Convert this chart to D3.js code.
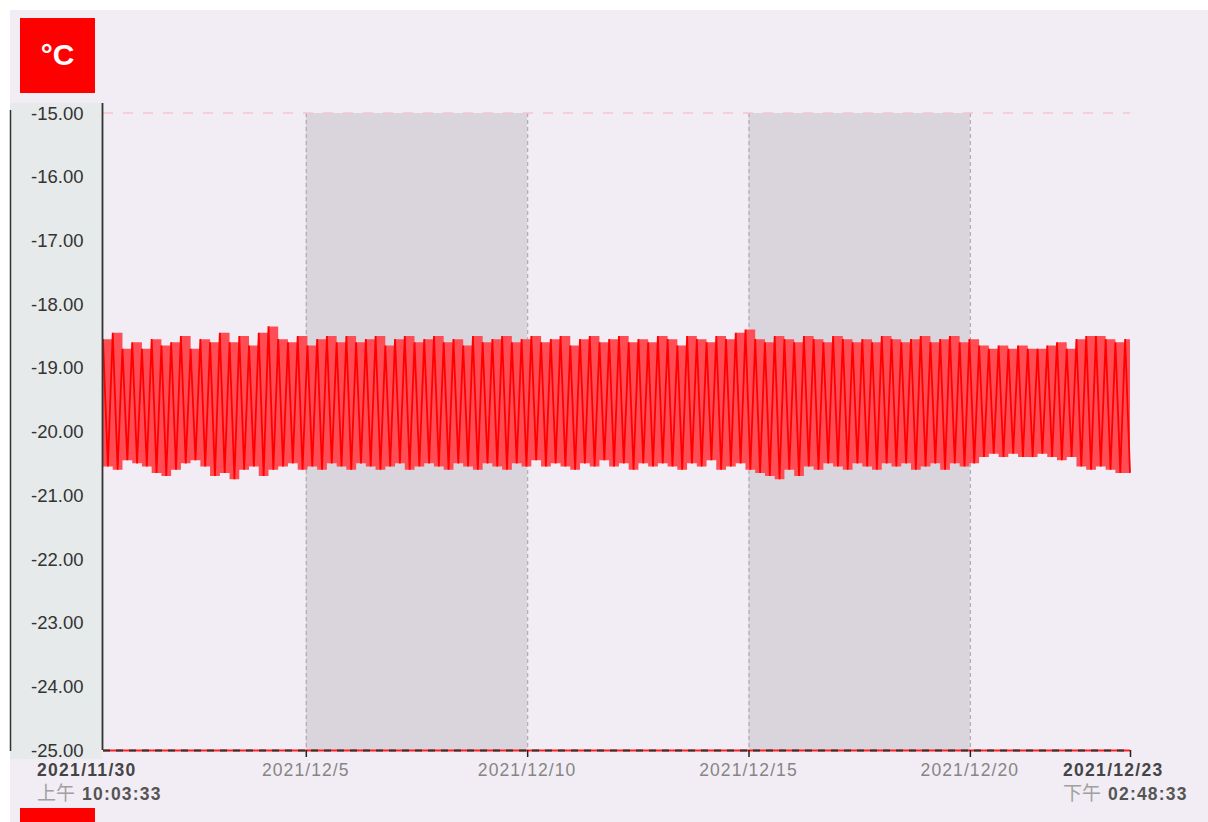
<!DOCTYPE html>
<html><head><meta charset="utf-8">
<script src="https://cdn.jsdelivr.net/npm/d3@7"></script>
<style>
html,body{margin:0;padding:0;background:#fff;}
svg{display:block;font-family:"Liberation Sans",Arial,sans-serif;}
</style></head>
<body>
<svg id="chart" width="1208" height="822"></svg>
<script>
// ---- data ----
const unitLabel = "°C";
const startTime = "2021-11-30T10:03:33";
const endTime = "2021-12-23T14:48:33";
const startLabel = ["2021/11/30", "上午", "10:03:33"];
const endLabel = ["2021/12/23", "下午", "02:48:33"];
const midTickDates = ["2021-12-05", "2021-12-10", "2021-12-15", "2021-12-20"];
const midTickLabels = ["2021/12/5", "2021/12/10", "2021/12/15", "2021/12/20"];
const shadedBands = [["2021-12-05", "2021-12-10"], ["2021-12-15", "2021-12-20"]];
const yTicks = [-15, -16, -17, -18, -19, -20, -21, -22, -23, -24, -25];
// per cycle maximum and minimum temperature (°C)
const highs = [
 -18.55,-18.45,-18.7,-18.6,-18.7,-18.55,-18.65,-18.6,-18.5,-18.7,
 -18.55,-18.6,-18.45,-18.6,-18.5,-18.65,-18.45,-18.35,-18.55,-18.6,
 -18.5,-18.65,-18.55,-18.5,-18.6,-18.5,-18.6,-18.55,-18.5,-18.65,
 -18.55,-18.5,-18.6,-18.55,-18.5,-18.6,-18.55,-18.65,-18.5,-18.6,
 -18.55,-18.5,-18.6,-18.55,-18.5,-18.6,-18.55,-18.5,-18.65,-18.55,
 -18.5,-18.6,-18.55,-18.5,-18.6,-18.55,-18.6,-18.5,-18.55,-18.65,
 -18.5,-18.55,-18.6,-18.5,-18.55,-18.45,-18.4,-18.55,-18.6,-18.5,
 -18.55,-18.6,-18.5,-18.55,-18.6,-18.5,-18.55,-18.6,-18.55,-18.6,
 -18.5,-18.55,-18.6,-18.55,-18.5,-18.6,-18.55,-18.5,-18.6,-18.55,
 -18.65,-18.7,-18.65,-18.7,-18.65,-18.7,-18.7,-18.65,-18.6,-18.7,
 -18.55,-18.5,-18.5,-18.55,-18.6,-18.55
];
const lows = [
 -20.55,-20.6,-20.45,-20.5,-20.55,-20.65,-20.7,-20.6,-20.5,-20.45,
 -20.55,-20.7,-20.65,-20.75,-20.6,-20.55,-20.7,-20.6,-20.55,-20.5,
 -20.6,-20.55,-20.6,-20.5,-20.55,-20.6,-20.5,-20.55,-20.6,-20.55,
 -20.5,-20.6,-20.55,-20.5,-20.55,-20.6,-20.5,-20.55,-20.6,-20.5,
 -20.55,-20.6,-20.5,-20.55,-20.45,-20.55,-20.5,-20.55,-20.6,-20.5,
 -20.55,-20.45,-20.55,-20.5,-20.6,-20.5,-20.55,-20.5,-20.55,-20.6,
 -20.5,-20.55,-20.45,-20.6,-20.55,-20.5,-20.6,-20.65,-20.7,-20.75,
 -20.6,-20.7,-20.55,-20.6,-20.5,-20.55,-20.6,-20.5,-20.55,-20.6,
 -20.5,-20.55,-20.5,-20.6,-20.55,-20.5,-20.6,-20.5,-20.55,-20.5,
 -20.4,-20.35,-20.4,-20.35,-20.4,-20.4,-20.35,-20.4,-20.45,-20.4,
 -20.55,-20.6,-20.55,-20.6,-20.65,-20.65
];

// ---- layout ----
const svg = d3.select("#chart");
const parse = d3.timeParse("%Y-%m-%dT%H:%M:%S");
const parseDay = d3.timeParse("%Y-%m-%d");
const t0 = parse(startTime), t1 = parse(endTime);
const plot = {left: 103, right: 1130, top: 113, bottom: 750};

const x = d3.scaleTime().domain([t0, t1]).range([plot.left, plot.right]);
const y = d3.scaleLinear().domain([-25, -15]).range([plot.bottom, plot.top]);

// background
svg.append("rect").attr("x", 10).attr("y", 10).attr("width", 1198).attr("height", 812).attr("fill", "#f2edf4");

// y-axis panel
svg.append("rect").attr("x", 10).attr("y", 103).attr("width", 92).attr("height", 656).attr("fill", "#e6eaea");
svg.append("line").attr("x1", 10.5).attr("x2", 10.5).attr("y1", 110).attr("y2", 751).attr("stroke", "#333").attr("stroke-width", 1.5);

// shaded bands
svg.append("g").selectAll("rect").data(shadedBands).join("rect")
  .attr("x", d => x(parseDay(d[0])))
  .attr("width", d => x(parseDay(d[1])) - x(parseDay(d[0])))
  .attr("y", plot.top).attr("height", plot.bottom - plot.top)
  .attr("fill", "#dad5dc");
svg.append("g").selectAll("line").data(midTickDates).join("line")
  .attr("x1", d => x(parseDay(d)) + 0.5).attr("x2", d => x(parseDay(d)) + 0.5)
  .attr("y1", plot.top).attr("y2", plot.bottom)
  .attr("stroke", "#b0abb2").attr("stroke-width", 1.2).attr("stroke-dasharray", "4,3");

// top dashed line at -15
svg.append("line").attr("x1", plot.left).attr("x2", plot.right)
  .attr("y1", y(-15)).attr("y2", y(-15))
  .attr("stroke", "#f5c5cc").attr("stroke-width", 1.5).attr("stroke-dasharray", "10,10");

// data
const n = highs.length;
const dt = (t1 - t0) / (2 * n - 1);
const pts = [];
for (let i = 0; i < n; i++) {
  pts.push({t: new Date(+t0 + dt * (2 * i)), v: highs[i]});
  pts.push({t: new Date(+t0 + dt * (2 * i + 1)), v: lows[i]});
}
const cyc = highs.map((h, i) => ({t: new Date(+t0 + dt * (2 * i)), hi: h, lo: lows[i]}));
cyc.push({t: t1, hi: highs[n - 1], lo: lows[n - 1]});
svg.append("path").datum(cyc)
  .attr("d", d3.area().curve(d3.curveStepAfter).x(d => x(d.t)).y0(d => y(d.lo)).y1(d => y(d.hi)))
  .attr("fill", "#ff4d55");
svg.append("path").datum(pts)
  .attr("d", d3.line().x(d => x(d.t)).y(d => y(d.v)))
  .attr("fill", "none").attr("stroke", "#ff0000").attr("stroke-width", 1.8);

// y axis
const yAxis = svg.append("g").attr("transform", `translate(${plot.left - 0.5},0)`)
  .call(d3.axisLeft(y).tickValues(yTicks).tickFormat(d => d.toFixed(2)).tickSize(0).tickPadding(19));
yAxis.select(".domain").attr("stroke", "#333").attr("stroke-width", 1.8).attr("d", `M0,${plot.top - 10}V${plot.bottom}`);
yAxis.selectAll("text").attr("font-size", 18.5).attr("fill", "#333").attr("font-family", "Liberation Sans, Arial, sans-serif").attr("dy", "0.33em");

// x axis line (red/black dashes)
svg.append("line").attr("x1", plot.left).attr("x2", plot.right).attr("y1", plot.bottom + 0.5).attr("y2", plot.bottom + 0.5)
  .attr("stroke", "#ff2020").attr("stroke-width", 2);
svg.append("line").attr("x1", plot.left).attr("x2", plot.right).attr("y1", plot.bottom + 0.5).attr("y2", plot.bottom + 0.5)
  .attr("stroke", "#333").attr("stroke-width", 2).attr("stroke-dasharray", "7,6");

// x ticks
const xAxis = svg.append("g").attr("transform", `translate(0,${plot.bottom})`)
  .call(d3.axisBottom(x).tickValues(midTickDates.map(parseDay).concat([t1])).tickFormat("").tickSize(7));
xAxis.select(".domain").remove();
xAxis.selectAll("line").attr("stroke", "#222").attr("stroke-width", 1.5);

svg.append("g").selectAll("text").data(midTickDates).join("text")
  .attr("x", d => x(parseDay(d))).attr("y", 776)
  .attr("text-anchor", "middle").attr("font-size", 17.5).attr("letter-spacing", 1.1).attr("fill", "#858585")
  .text((d, i) => midTickLabels[i]);

function endLabelDraw(lx, lab) {
  svg.append("text").attr("x", lx).attr("y", 776).attr("text-anchor", "start")
    .attr("font-size", 17.5).attr("letter-spacing", 1.3).attr("font-weight", "bold").attr("fill", "#444").text(lab[0]);
  const t = svg.append("text").attr("x", lx).attr("y", 800).attr("text-anchor", "start").attr("font-size", 17.5);
  t.append("tspan").attr("fill", "#a0a0a0").attr("font-family", "Noto Sans CJK SC, sans-serif").attr("font-size", 19).text(lab[1]);
  t.append("tspan").attr("dx", 7).attr("fill", "#555").attr("font-weight", "bold").attr("letter-spacing", 1.2).text(lab[2]);
}
endLabelDraw(37, startLabel);
endLabelDraw(1063, endLabel);

// unit boxes
svg.append("rect").attr("x", 20).attr("y", 18).attr("width", 75).attr("height", 75).attr("fill", "#ff0000");
svg.append("text").attr("x", 57.5).attr("y", 65).attr("text-anchor", "middle").attr("fill", "#fff")
  .attr("font-size", 30).attr("font-weight", "bold").attr("font-family", "Liberation Sans, Arial, sans-serif").text(unitLabel);
svg.append("rect").attr("x", 20).attr("y", 808).attr("width", 75).attr("height", 20).attr("fill", "#ff0000");
</script>
</body></html>
